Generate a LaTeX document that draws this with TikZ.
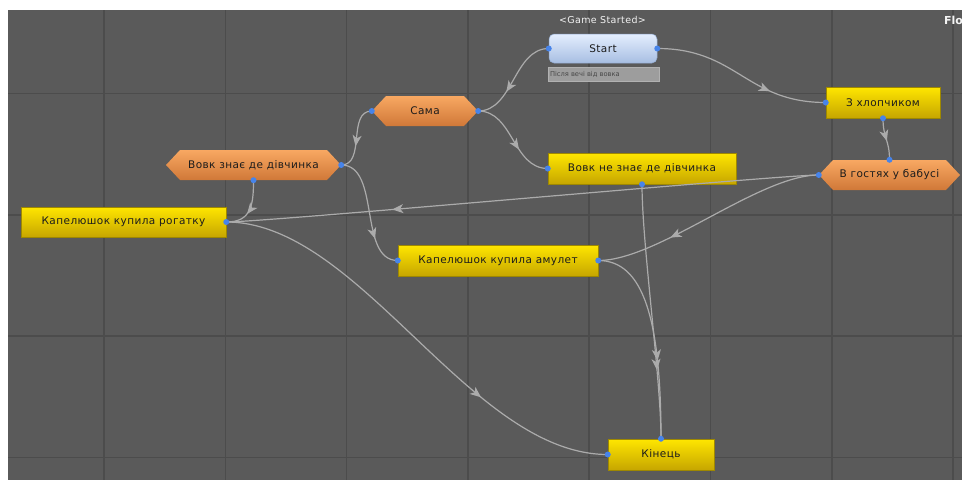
\documentclass[tikz,border=0pt]{standalone}
\usepackage{fontspec}
\setmainfont{DejaVu Sans}
\newfontfamily\nodefont[LetterSpace=4]{DejaVu Sans}
\usetikzlibrary{arrows.meta,decorations.markings,calc}
\definecolor{bgc}{HTML}{5A5A5A}
\definecolor{gridc}{HTML}{4C4C4C}
\definecolor{linec}{HTML}{ABABAB}
\definecolor{portc}{HTML}{4784EA}
\definecolor{ytop}{HTML}{FFE600}
\definecolor{ybot}{HTML}{C6A600}
\definecolor{yedge}{HTML}{9E8800}
\definecolor{otop}{HTML}{F8A862}
\definecolor{obot}{HTML}{D07838}
\definecolor{btop}{HTML}{E4EEFE}
\definecolor{bbot}{HTML}{A7BEE2}
\definecolor{bedge}{HTML}{8FA7CC}
\definecolor{notec}{HTML}{9D9D9D}
\definecolor{notetxt}{HTML}{474747}
\definecolor{txtc}{HTML}{1C1C1C}
\newcommand{\hexbg}[4]{%
  \shade[top color=otop, bottom color=obot]
    ({#1-#3/2},{#2}) -- ({#1-#3/2+14},{#2-#4/2}) -- ({#1+#3/2-14},{#2-#4/2})
    -- ({#1+#3/2},{#2}) -- ({#1+#3/2-14},{#2+#4/2}) -- ({#1-#3/2+14},{#2+#4/2}) -- cycle;}
\begin{document}
\begin{tikzpicture}[x=1pt,y=-1pt,
  lbl/.style={font=\nodefont\fontsize{10.5}{12}\selectfont, text=txtc, inner sep=0pt},
  ybox/.style={lbl, rectangle, top color=ytop, bottom color=ybot, draw=yedge, line width=0.5pt},
  hexbox/.style={lbl, rectangle},
  conn/.style={draw=linec, line width=1.2pt},
  arr/.style={postaction={decorate}, decoration={markings,
      mark=at position #1 with {\arrow[linec]{Stealth[length=11pt,width=9pt,inset=3pt]}}}},
  port/.style={fill=portc}
]
\useasboundingbox (0,0) rectangle (962,480);
\fill[white] (0,0) rectangle (962,480);
\begin{scope}
\clip (8,10) rectangle (962,480);
\fill[bgc] (8,10) rectangle (962,480);
\foreach \x in {104,225.3,346.6,467.9,589.2,710.5,831.8,953.1}
  \draw[gridc, line width=1.6pt] (\x,10) -- (\x,480);
\foreach \y in {93.5,214.8,336.1,457.4}
  \draw[gridc, line width=1.6pt] (8,\y) -- (962,\y);

% hexagon backgrounds
\hexbg{425}{111}{106}{30}
\hexbg{253.5}{165}{175}{30}
\hexbg{889.5}{175}{141}{30}

% nodes
\node[font=\nodefont\fontsize{9.5}{11}\selectfont, text=white!90!gray, inner sep=0pt] (gs) at (602.5,20) {<Game Started>};
\node[lbl, rectangle, rounded corners=5pt, top color=btop, bottom color=bbot, draw=bedge, line width=0.5pt,
      minimum width=108pt, minimum height=29pt] (start) at (603,48.5) {Start};
\node[rectangle, fill=notec, draw=notec!80!white, line width=0.4pt, minimum width=111pt, minimum height=14pt,
      inner sep=0pt] (note) at (603.5,74) {};
\node[anchor=west, font=\fontsize{6.7}{8}\selectfont, text=notetxt, inner sep=0pt] (notet) at (note.west) {\hspace{2pt}Після вечі від вовка};
\node[hexbox, minimum width=106pt, minimum height=30pt] (sama) at (425,111) {Сама};
\node[hexbox, minimum width=175pt, minimum height=30pt] (vz) at (253.5,165) {Вовк знає де дівчинка};
\node[ybox, minimum width=205pt, minimum height=30pt] (kr) at (123.5,222) {Капелюшок купила рогатку};
\node[ybox, minimum width=188pt, minimum height=31pt] (vnz) at (642,168.5) {Вовк не знає де дівчинка};
\node[ybox, minimum width=114pt, minimum height=31pt] (zkh) at (883,102.5) {З хлопчиком};
\node[hexbox, minimum width=141pt, minimum height=30pt] (vg) at (889.5,175) {В гостях у бабусі};
\node[ybox, minimum width=200pt, minimum height=31pt] (ka) at (498,260.5) {Капелюшок купила амулет};
\node[ybox, minimum width=106pt, minimum height=31pt] (kin) at (661,454.5) {Кінець};
\node[anchor=west, font=\bfseries\fontsize{11}{13}\selectfont, text=white!92!gray, inner sep=0pt] (flo) at (944,20) {Flo};

% connectors
\draw[conn, arr=0.64] (start.west) .. controls +(-35,0) and +(35,0) .. (sama.east);
\draw[conn, arr=0.68] (start.east) .. controls +(80,0) and +(-80,0) .. (zkh.west);
\draw[conn, arr=0.62] (sama.west) .. controls +(-25,0) and +(25,0) .. (vz.east);
\draw[conn, arr=0.62] (sama.east) .. controls +(35,0) and +(-35,0) .. (vnz.west);
\draw[conn, arr=0.72] (vz.east) .. controls +(40,0) and +(-40,0) .. (ka.west);
\draw[conn, arr=0.6] (vz.south) .. controls +(0,25) and +(25,0) .. (kr.east);
\draw[conn, arr=0.55] (zkh.south) .. controls +(0,20) and +(0,-20) .. (vg.north);
\draw[conn, arr=0.72] (vg.west) .. controls +(-40,0) and +(40,0) .. (kr.east);
\draw[conn, arr=0.68] (vg.west) .. controls +(-60,0) and +(60,0) .. (ka.east);
\draw[conn, arr=0.73] (vnz.south) .. controls +(0,60) and +(0,-60) .. (kin.north);
\draw[conn, arr=0.62] (ka.east) .. controls +(45,0) and +(0,-120) .. (kin.north);
\draw[conn, arr=0.69] (kr.east) .. controls +(134,0) and +(-138,0) .. (kin.west);

% ports
\foreach \p in {start.west,start.east,sama.west,sama.east,vz.east,vz.south,kr.east,
  vnz.west,vnz.south,zkh.west,zkh.south,vg.west,vg.north,ka.west,ka.east,kin.west,kin.north}
  \fill[port] (\p) circle (3pt);
\end{scope}
\end{tikzpicture}
\end{document}
